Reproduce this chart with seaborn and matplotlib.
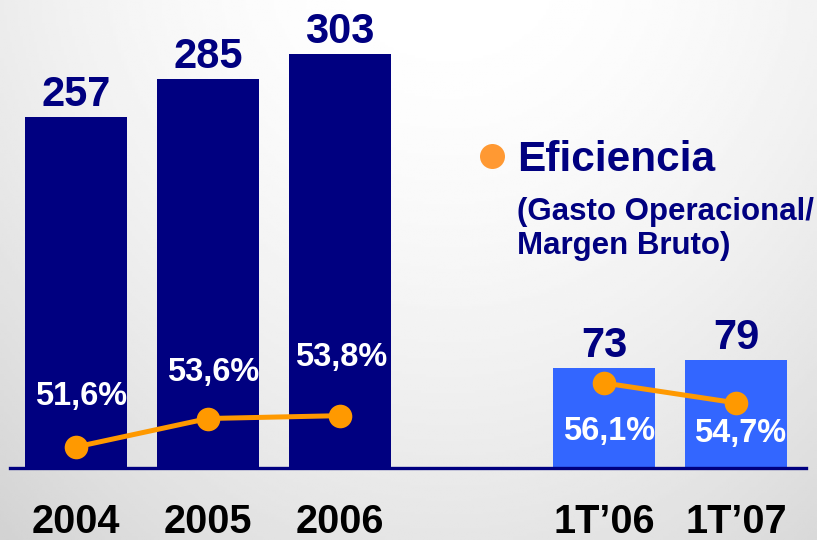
#!/usr/bin/env python3

import matplotlib

matplotlib.use("Agg")
import matplotlib.pyplot as plt
from matplotlib.lines import Line2D
import numpy as np
import pandas as pd
import seaborn as sns

# data
periods = ["2004", "2005", "2006", "", "1T\u201906", "1T\u201907"]
bar_periods = ["2004", "2005", "2006", "1T\u201906", "1T\u201907"]
bar_values = [257, 285, 303, 73, 79]
annual = ["2004", "2005", "2006"]
annual_eff = [51.6, 53.6, 53.8]
quarter = ["1T\u201906", "1T\u201907"]
quarter_eff = [56.1, 54.7]
eff_labels = ["51,6%", "53,6%", "53,8%", "56,1%", "54,7%"]

NAVY = "#000080"
LIGHT_BLUE = "#3366FF"
ORANGE = "#FF9900"

sns.set_style("white")
plt.rcParams["font.family"] = ["Liberation Sans", "DejaVu Sans"]
plt.rcParams["font.weight"] = "bold"

W, H = 817, 540
fig = plt.figure(figsize=(W / 100, H / 100), dpi=100)

# soft grey background, brightest near the top middle
bg = fig.add_axes([0, 0, 1, 1], zorder=-10)
yy, xx = np.mgrid[0:1:200j, 0:1:300j]
u = (xx - 0.55) / 0.45
shade = 1 - 0.05 * u ** 2 - 0.10 * yy ** 1.5
bg.imshow(np.clip(shade, 0, 1), cmap="gray", vmin=0, vmax=1, aspect="auto",
          extent=[0, 1, 0, 1], origin="upper")
bg.set_axis_off()

base_px = 468
ax = fig.add_axes([0, (H - base_px) / H, 1, base_px / H])
ax.patch.set_alpha(0)

df = pd.DataFrame({"period": bar_periods, "value": bar_values})
palette = {p: (NAVY if p in annual else LIGHT_BLUE) for p in bar_periods}
sns.barplot(
    data=df,
    x="period",
    y="value",
    hue="period",
    order=periods,
    palette=palette,
    width=0.77,
    saturation=1,
    linewidth=0,
    legend=False,
    ax=ax,
)

px_per_unit = 1.366
ax.set_ylim(0, base_px / px_per_unit)
ax.set_xlim(-76 / 132, (W - 76) / 132)

for p, v in zip(bar_periods, bar_values):
    ax.annotate(
        str(v),
        (periods.index(p), v),
        xytext=(0, 8),
        textcoords="offset points",
        ha="center",
        va="baseline",
        fontsize=30,
        fontweight="bold",
        color=NAVY,
    )

for s in ["top", "left", "right"]:
    ax.spines[s].set_visible(False)
ax.spines["bottom"].set_color(NAVY)
ax.spines["bottom"].set_linewidth(2.4)
ax.spines["bottom"].set_bounds(-0.5, 5.53)
ax.set_yticks([])
ax.set_xlabel("")
ax.set_ylabel("")
ax.tick_params(axis="x", length=0, pad=25, labelsize=28.5, labelcolor="black")

# efficiency line on its own scale
ax2 = ax.twinx()
ax2.set_ylim(50.12, 50.12 + base_px / 14.22)
for names, vals in [(annual, annual_eff), (quarter, quarter_eff)]:
    sns.lineplot(
        x=[periods.index(n) for n in names],
        y=vals,
        color=ORANGE,
        linewidth=3.6,
        marker="o",
        markersize=17,
        markeredgewidth=0,
        ax=ax2,
    )
offsets = [(4, 36), (4, 33), (1, 42), (4, -35), (3, -22)]
for n, v, lab, off in zip(annual + quarter, annual_eff + quarter_eff,
                          eff_labels, offsets):
    ax2.annotate(
        lab,
        (periods.index(n), v),
        xytext=off,
        textcoords="offset points",
        ha="center",
        va="center",
        fontsize=23.5,
        fontweight="bold",
        color="white",
    )
ax2.set_axis_off()

handle = Line2D([], [], marker="o", linestyle="", color="#FF9933",
                markersize=18, markeredgewidth=0)
fig.legend(
    handles=[handle],
    labels=["Eficiencia"],
    loc="center left",
    bbox_to_anchor=(475 / W, 1 - 160 / H),
    frameon=False,
    borderpad=0,
    borderaxespad=0,
    handlelength=0.8,
    handletextpad=0.2,
    prop={"size": 30.5, "weight": "bold"},
    labelcolor=NAVY,
)
fig.text(517 / W, 1 - 220 / H, "(Gasto Operacional/", fontsize=22.5,
         fontweight="bold", color=NAVY, va="baseline")
fig.text(517 / W, 1 - 254 / H, "Margen Bruto)", fontsize=22.5,
         fontweight="bold", color=NAVY, va="baseline")

plt.savefig("out.png", dpi=100)
